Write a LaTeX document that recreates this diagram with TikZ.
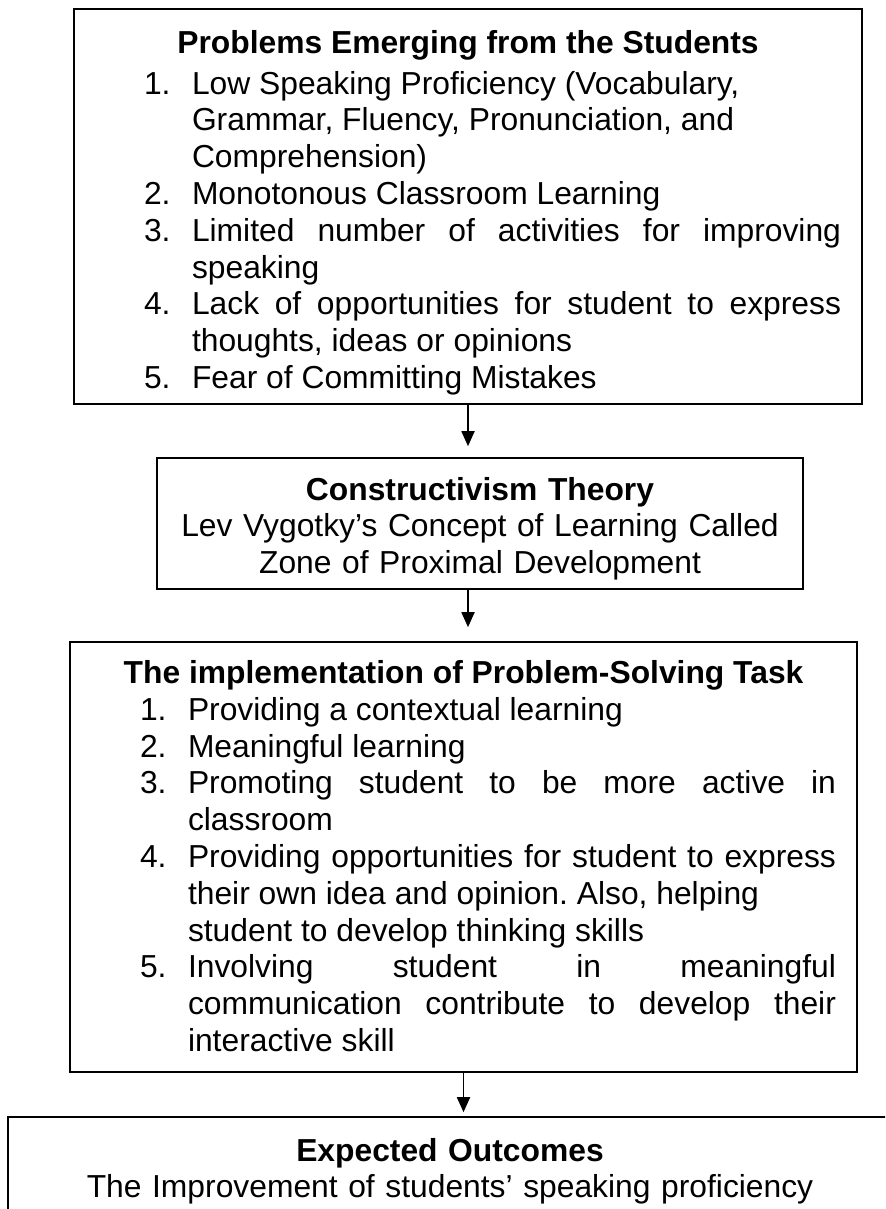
\documentclass[tikz,border=0pt]{standalone}
\usepackage{fontspec}
\setmainfont{Liberation Sans}
\usepackage{enumitem}
\usetikzlibrary{arrows.meta}

\setlist[enumerate]{label=\arabic*., align=left, leftmargin=59pt, labelwidth=24pt,
  labelsep=0pt, rightmargin=10.5pt, topsep=0pt, partopsep=0pt, itemsep=0pt, parsep=0pt}
\newcommand{\boxtitle}[1]{{\centering\bfseries #1\par}}
\hbadness=10000

\tikzset{
  every node/.style={font=\fontsize{15.9pt}{18.4pt}\selectfont\frenchspacing},
  frame/.style={draw, line width=.8pt, rectangle, inner sep=0pt, anchor=base},
  flow/.style={-{Triangle[width=6.5pt,length=7.5pt]}, line width=.9pt, shorten >=5.5pt}
}

\begin{document}
\begin{tikzpicture}[x=.5pt, y=.5pt]
\clip (0,0) rectangle (885,-1209);

\node [frame, align=justify, text width=394pt, text height=22.2pt, text depth=175.3pt] (problems) at (468,-53.4) {%
  \boxtitle{Problems Emerging from the Students}
  \begin{enumerate}[topsep=2pt]
    \item Low Speaking Proficiency (Vocabulary,\newline Grammar, Fluency, Pronunciation, and\newline Comprehension)
    \item Monotonous Classroom Learning
    \item Limited number of activities for improving\linebreak speaking
    \item Lack of opportunities for student to express\linebreak thoughts, ideas or opinions
    \item Fear of Committing Mistakes
  \end{enumerate}};

\node [frame, align=center, text width=323pt, text height=21pt, text depth=44.5pt] (theory) at (480,-500) {%
  \textbf{Constructivism Theory}\\
  Lev Vygotky’s Concept of Learning Called\\
  Zone of Proximal Development};

\node [frame, align=justify, text width=393.5pt, text height=20.7pt, text depth=194.3pt] (task) at (463.5,-683.4) {%
  \boxtitle{The implementation of Problem-Solving Task}
  \begin{enumerate}
    \item Providing a contextual learning
    \item Meaningful learning
    \item Promoting student to be more active in\linebreak classroom
    \item Providing opportunities for student to express\linebreak their own idea and opinion. Also, helping\newline student to develop thinking skills
    \item Involving student in meaningful\linebreak communication contribute to develop their\linebreak interactive skill
  \end{enumerate}};

\node [frame, align=center, text width=442pt, text height=22pt, text depth=50pt] (outcome) at (450,-1161) {%
  \textbf{Expected Outcomes}\\
  The Improvement of students’ speaking proficiency};

\draw [flow] (problems.south) -- (problems.south |- theory.north);
\draw [flow, shorten >=7pt] (problems.south |- theory.south) -- (problems.south |- task.north);
\draw [flow, shorten >=2pt] (task.south) -- (task.south |- outcome.north);
\end{tikzpicture}
\end{document}
